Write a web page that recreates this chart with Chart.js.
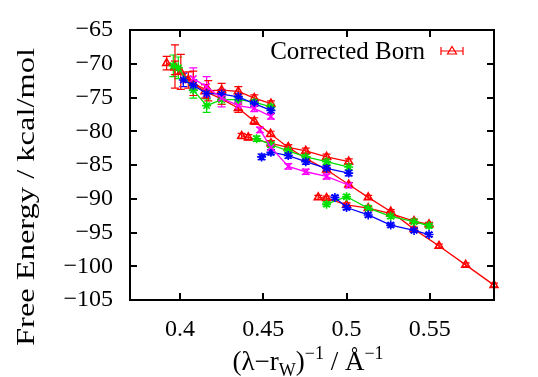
<!DOCTYPE html>
<html>
<head>
<meta charset="utf-8">
<script src="https://cdn.jsdelivr.net/npm/chart.js@4/dist/chart.umd.min.js"></script>
<style>
  html, body { margin: 0; padding: 0; background: #fff; }
</style>
</head>
<body>
<canvas id="chart" width="538" height="377"></canvas>
<script>
// tick labels
const xTicks = [0.4, 0.45, 0.5, 0.55];
const yTicks = [-65, -70, -75, -80, -85, -90, -95, -100, -105];

// red: Corrected Born (main run + three short runs)
const redMainX = [0.392, 0.397, 0.405, 0.415, 0.425, 0.435, 0.4446, 0.4544, 0.465, 0.476, 0.488, 0.5013, 0.513, 0.5265, 0.5405, 0.5555, 0.5715, 0.5885];
const redMainY = [-69.9, -70.6, -72.4, -74.1, -75.2, -76.6, -78.5, -80.4, -82.4, -84.1, -85.7, -87.9, -89.8, -91.9, -94.5, -97.0, -99.8, -102.8];
const redMainErr = [1.0, 1.0, 1.2, 1.0, 0.8, 0.6, 0.5, 0.4, 0.4, 0.3, 0.3, 0.3, 0.3, 0.3, 0.3, 0.3, 0.3, 0.3];
const redUpX = [0.397, 0.4005, 0.408, 0.417, 0.425, 0.435, 0.4446, 0.4546];
const redUpY = [-70.4, -71.2, -72.9, -74.0, -73.9, -74.1, -75.1, -75.9];
const redUpErr = [3.2, 2.6, 1.8, 1.5, 1.0, 0.7, 0.5, 0.4];
const redMidX = [0.437, 0.441, 0.4546, 0.465, 0.4755, 0.488, 0.5013];
const redMidY = [-80.7, -80.9, -81.8, -82.4, -82.9, -83.8, -84.5];
const redMidErr = [0.4, 0.4, 0.4, 0.4, 0.4, 0.4, 0.4];
const redLowX = [0.483, 0.488, 0.500, 0.513, 0.5265, 0.5405, 0.5495];
const redLowY = [-89.8, -89.9, -90.9, -91.4, -92.2, -93.3, -93.8];
const redLowErr = [0.3, 0.3, 0.3, 0.3, 0.3, 0.3, 0.3];

// green
const greenUpX = [0.396, 0.399, 0.408, 0.416, 0.425, 0.435, 0.4446, 0.4546];
const greenUpY = [-70.3, -70.6, -73.9, -76.2, -75.3, -75.3, -75.7, -76.4];
const greenUpErr = [1.6, 1.6, 1.2, 1.0, 0.7, 0.5, 0.4, 0.4];
const greenMidX = [0.446, 0.4546, 0.465, 0.4755, 0.488, 0.5013];
const greenMidY = [-81.1, -82.0, -82.9, -83.8, -84.5, -85.3];
const greenMidErr = [0.4, 0.4, 0.4, 0.4, 0.4, 0.4];
const greenLowX = [0.488, 0.500, 0.513, 0.5265, 0.5405, 0.5495];
const greenLowY = [-90.8, -89.7, -91.4, -92.6, -93.4, -94.0];
const greenLowErr = [0.3, 0.3, 0.3, 0.3, 0.3, 0.3];

// blue
const blueUpX = [0.402, 0.408, 0.416, 0.425, 0.435, 0.4446, 0.4546];
const blueUpY = [-72.4, -73.2, -74.4, -74.5, -74.9, -75.9, -76.9];
const blueUpErr = [1.0, 0.8, 0.7, 0.6, 0.5, 0.4, 0.4];
const blueMidX = [0.449, 0.4546, 0.465, 0.4755, 0.488, 0.5013];
const blueMidY = [-83.8, -83.1, -83.6, -84.5, -85.5, -86.2];
const blueMidErr = [0.4, 0.4, 0.4, 0.4, 0.4, 0.4];
const blueLowX = [0.493, 0.500, 0.513, 0.5265, 0.5405, 0.5495];
const blueLowY = [-89.8, -91.3, -92.4, -93.9, -94.7, -95.3];
const blueLowErr = [0.3, 0.3, 0.3, 0.3, 0.3, 0.3];

// magenta
const magUpX = [0.408, 0.416, 0.425, 0.435, 0.4446, 0.4546];
const magUpY = [-72.2, -73.4, -75.1, -76.2, -76.6, -77.8];
const magUpErr = [1.6, 1.5, 1.3, 0.6, 0.5, 0.4];
const magMidX = [0.448, 0.4546, 0.465, 0.4755, 0.488, 0.5013];
const magMidY = [-79.8, -82.4, -85.2, -86.0, -86.7, -88.0];
const magMidErr = [0.4, 0.4, 0.4, 0.4, 0.4, 0.4];

const RED = "#ff0000", GREEN = "#00e000", BLUE = "#0000ff", MAG = "#ff00ff";
const SERIF = "'Liberation Serif', 'Times New Roman', Times, serif";

function run(xs, ys, errs, color, style, label) {
  return {
    label: label || "",
    data: xs.map((x, i) => ({ x: x, y: ys[i] })),
    errors: errs,
    showLine: true,
    borderColor: color,
    borderWidth: 1.3,
    pointStyle: style,
    pointRadius: 4.5,
    pointBorderWidth: 1.6,
    pointBorderColor: color,
    pointBackgroundColor: "rgba(0,0,0,0)",
    clip: 10,
  };
}

const datasets = [
  run(magUpX, magUpY, magUpErr, MAG, "crossRot"),
  run(magMidX, magMidY, magMidErr, MAG, "crossRot"),
  run(blueUpX, blueUpY, blueUpErr, BLUE, "star"),
  run(blueMidX, blueMidY, blueMidErr, BLUE, "star"),
  run(blueLowX, blueLowY, blueLowErr, BLUE, "star"),
  run(greenUpX, greenUpY, greenUpErr, GREEN, "star"),
  run(greenMidX, greenMidY, greenMidErr, GREEN, "star"),
  run(greenLowX, greenLowY, greenLowErr, GREEN, "star"),
  run(redMainX, redMainY, redMainErr, RED, "triangle", "Corrected Born"),
  run(redUpX, redUpY, redUpErr, RED, "triangle"),
  run(redMidX, redMidY, redMidErr, RED, "triangle"),
  run(redLowX, redLowY, redLowErr, RED, "triangle"),
];

// vertical error bars with caps, under the points
const errorBars = {
  id: "errorBars",
  beforeDatasetsDraw(chart) {
    const ctx = chart.ctx, xs = chart.scales.x, ys = chart.scales.y;
    chart.data.datasets.forEach(ds => {
      ctx.save();
      ctx.strokeStyle = ds.borderColor;
      ctx.lineWidth = 1.2;
      ds.data.forEach((p, i) => {
        const e = ds.errors[i];
        const px = xs.getPixelForValue(p.x);
        const top = ys.getPixelForValue(p.y + e);
        const bot = ys.getPixelForValue(p.y - e);
        ctx.beginPath();
        ctx.moveTo(px, top); ctx.lineTo(px, bot);
        ctx.moveTo(px - 4, top); ctx.lineTo(px + 4, top);
        ctx.moveTo(px - 4, bot); ctx.lineTo(px + 4, bot);
        ctx.stroke();
      });
      ctx.restore();
    });
  }
};

// gnuplot style frame, inward ticks, key and axis titles
const frame = {
  id: "frame",
  afterDraw(chart) {
    const ctx = chart.ctx, a = chart.chartArea;
    const xs = chart.scales.x, ys = chart.scales.y;
    ctx.save();
    ctx.strokeStyle = "#000";
    ctx.lineWidth = 2;
    ctx.strokeRect(a.left, a.top, a.right - a.left, a.bottom - a.top);
    ctx.beginPath();
    xTicks.forEach(v => {
      const px = Math.round(xs.getPixelForValue(v));
      ctx.moveTo(px, a.bottom); ctx.lineTo(px, a.bottom - 7);
      ctx.moveTo(px, a.top); ctx.lineTo(px, a.top + 7);
    });
    yTicks.forEach(v => {
      const py = Math.round(ys.getPixelForValue(v));
      ctx.moveTo(a.left, py); ctx.lineTo(a.left + 7, py);
      ctx.moveTo(a.right, py); ctx.lineTo(a.right - 7, py);
    });
    ctx.stroke();

    // key
    ctx.fillStyle = "#000";
    ctx.font = "25px " + SERIF;
    ctx.textAlign = "right";
    ctx.textBaseline = "middle";
    ctx.fillText("Corrected Born", 425, 52);
    ctx.strokeStyle = RED;
    ctx.lineWidth = 1.2;
    ctx.beginPath();
    ctx.moveTo(441, 51); ctx.lineTo(463, 51);
    ctx.moveTo(441, 47); ctx.lineTo(441, 55);
    ctx.moveTo(463, 47); ctx.lineTo(463, 55);
    ctx.moveTo(452, 46.5); ctx.lineTo(456.5, 54); ctx.lineTo(447.5, 54); ctx.closePath();
    ctx.stroke();

    // y title
    ctx.save();
    ctx.translate(27, 197);
    ctx.rotate(-Math.PI / 2);
    ctx.font = "25px " + SERIF;
    ctx.fillStyle = "#000";
    ctx.textAlign = "center";
    ctx.textBaseline = "middle";
    const yt = "Free Energy / kcal/mol";
    const w = ctx.measureText(yt).width;
    ctx.scale(298 / w, 1);
    ctx.fillText(yt, 0, 0);
    ctx.restore();

    // x title with sub/superscripts
    const parts = [
      ["(\u03bb\u2212r", 27, 0],
      ["W", 18, 6],
      [")", 27, 0],
      ["\u22121", 18, -11],
      [" / \u00c5", 27, 0],
      ["\u22121", 18, -11],
    ];
    ctx.textAlign = "left";
    ctx.textBaseline = "alphabetic";
    let total = 0;
    parts.forEach(p => { ctx.font = p[1] + "px " + SERIF; total += ctx.measureText(p[0]).width; });
    let x = 308 - total / 2;
    const base = 370;
    parts.forEach(p => {
      ctx.font = p[1] + "px " + SERIF;
      ctx.fillText(p[0], x, base + p[2]);
      x += ctx.measureText(p[0]).width;
    });
    ctx.restore();
  }
};

let chart;

function drawChart() {
  if (chart) { chart.draw(); return; }
  chart = new Chart(document.getElementById("chart"), {
    type: "scatter",
    data: { datasets: datasets },
    options: {
      responsive: false,
      animation: false,
      layout: { padding: { top: 30, right: 44, left: 0, bottom: 0 } },
      plugins: { legend: { display: false }, tooltip: { enabled: false } },
      scales: {
        x: {
          type: "linear",
          min: 0.37,
          max: 0.5885,
          grid: { display: false },
          border: { display: false },
          afterBuildTicks: s => { s.ticks = xTicks.map(v => ({ value: v })); },
          afterFit: s => { s.height = 77; },
          ticks: {
            color: "#000",
            font: { family: SERIF, size: 24 },
            padding: 7,
            maxRotation: 0,
            callback: v => String(v),
          },
        },
        y: {
          type: "linear",
          min: -105,
          max: -65,
          grid: { display: false },
          border: { display: false },
          afterBuildTicks: s => { s.ticks = yTicks.map(v => ({ value: v })); },
          afterFit: s => { s.width = 130; },
          ticks: {
            color: "#000",
            font: { family: SERIF, size: 24 },
            padding: 9,
            callback: v => String(v).replace("-", "\u2212"),
          },
        },
      },
    },
    plugins: [errorBars, frame],
  });
}

// make sure the serif face is ready before the first paint
document.fonts.load("24px 'Liberation Serif'").then(drawChart, drawChart);
setTimeout(drawChart, 400);
</script>
</body>
</html>
